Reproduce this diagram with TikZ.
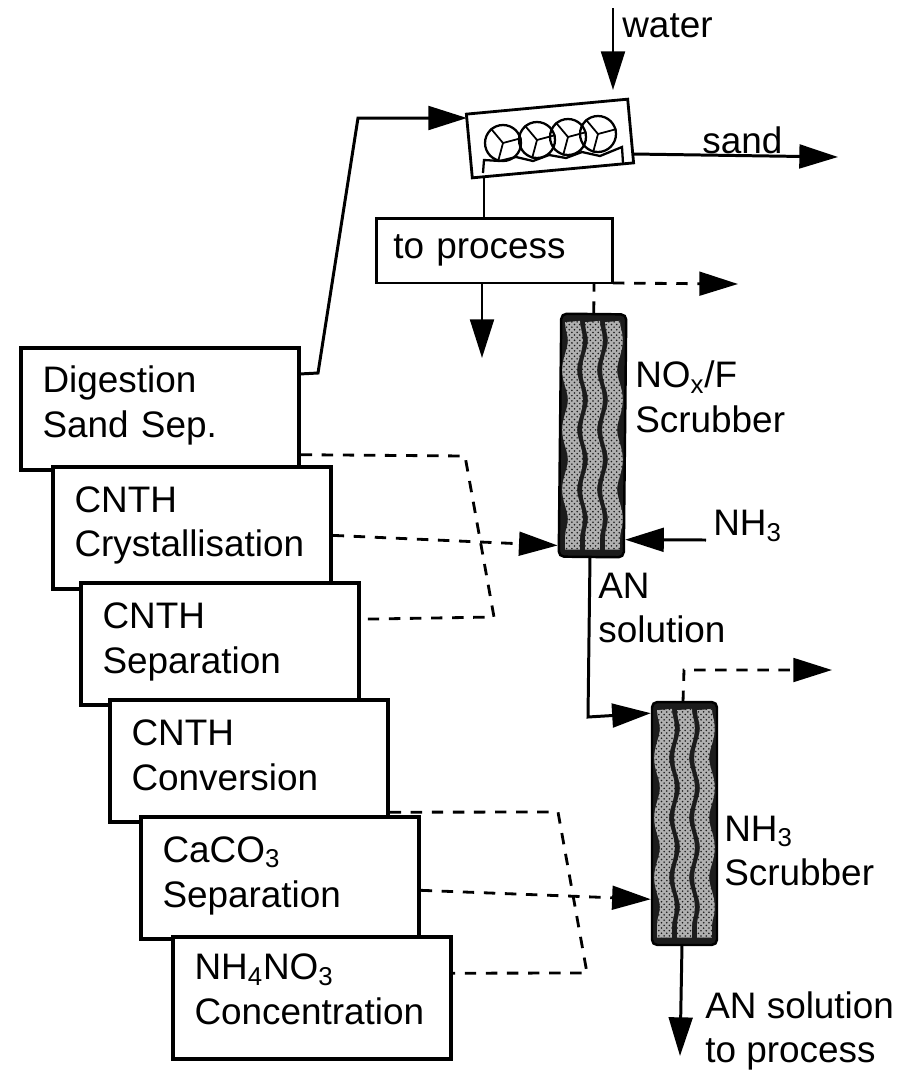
\documentclass[tikz,border=0pt]{standalone}
\usepackage{fontspec}
\setmainfont{Liberation Sans}
\usepackage{xcolor}
\usetikzlibrary{arrows.meta,calc,decorations.pathmorphing,patterns}
\definecolor{scrubdark}{HTML}{1c1c1c}
\definecolor{scrubgrey}{HTML}{b0b0b0}
\tikzset{
  label text/.style={font=\fontsize{21}{25.5}\selectfont,align=left,inner sep=0pt,anchor=west},
  unitbox/.style={draw,line width=1.9pt,fill=white,minimum width=5.56cm,minimum height=2.44cm,
    text width=4.7cm,align=left,inner xsep=0pt,inner ysep=0pt,text height=14pt,font=\fontsize{21}{25.5}\selectfont},
  scrubber/.style={draw,line width=1.4pt,fill=scrubdark,rounded corners=3pt,minimum width=1.3cm,minimum height=4.86cm,inner sep=0pt},
  flow/.style={line width=1.7pt},
  tip/.style={-{Triangle[length=22pt,width=13.5pt]}},
  gas/.style={line width=1.6pt,dash pattern=on 6.5pt off 5.5pt}
}
\begin{document}
\begin{tikzpicture}[x=0.02cm,y=-0.02cm]
  \useasboundingbox (0,0) rectangle (910,1073);
  % free ends and bends
  \foreach \n/\x/\y in {digbend1/318/373,digbend2/358/118,washin/467/118,
      waterin/613/8,waterout/613/90,sandin/633/154,sandout/838/157,
      washout/484/178,procin/484/218,procout/482/283,procend/482/358,
      ventbox/613/283,ventend/738/284,ventup/594/283,
      nh3in/706/540,
      an1/590/557,an2/588/717,
      top1/683/702,top2/684/670,top3/832/670,
      bot1/682/945,bot2/680/1056,
      gasa1/465/456,gasa2/494/617,gasb1/558/812,gasb2/587/973}{
    \coordinate (\n) at (\x,\y);
  }
  % process stack
  \foreach \n/\x/\y/\d/\t in {digestion/160/409/33/{Digestion\\Sand Sep.},
      crystal/192/528/32/{CNTH\\Crystallisation},
      separation/220/644/32/{CNTH\\Separation},
      conversion/249/761/32/{CNTH\\Conversion},
      caco/280/878/32/{CaCO\textsubscript{3}\\Separation},
      nitrate/312/998/35/{NH\textsubscript{4}NO\textsubscript{3}\\Concentration}}{
    \node[unitbox,text depth=\d pt] (\n) at (\x,\y) {\t};
  }
  % sand washer
  \node[draw,line width=1.6pt,minimum width=3.24cm,minimum height=1.28cm,rotate=5.3] (washer) at (550,138.5) {};
  \draw[line width=1.3pt] (483,173) -- (484,160) -- (500,161) -- (516,157) -- (533,161) -- (549,155) -- (566,158) -- (582,152) -- (600,156) -- (622,147) -- (623,163);
  \foreach \i/\x/\y in {1/503/143,2/537/140,3/568/137,4/598/134}{
    \node[draw,circle,line width=1.3pt,minimum size=0.72cm,inner sep=0pt] (roller\i) at (\x,\y) {};
    \foreach \a in {15,130,255}{
      \draw[line width=1pt] (roller\i.center) -- (roller\i.\a);
    }
  }
  \node[draw,line width=1.7pt,minimum width=4.72cm,minimum height=1.3cm,text width=4.05cm,align=left,
    font=\fontsize{21}{25.5}\selectfont] (process) at (494.5,250.5) {to process};
  % scrubbers
  \foreach \n/\x/\y/\r in {scrubone/592.5/435.5/-0.6,scrubtwo/684.5/823.5/0}{
    \node[scrubber,rotate=\r] (\n) at (\x,\y) {};
    \foreach \s in {-20,0,20}{
      \draw[scrubgrey,line width=8.5pt,decorate,decoration={snake,amplitude=1.6pt,segment length=34pt}]
        ($(\n.center)+(\s,-114)$) -- ($(\n.center)+(\s,114)$);
    }
    \path[pattern=crosshatch dots,pattern color=scrubdark] ($(\n.center)+(-30,-116)$) rectangle ($(\n.center)+(30,116)$);
  }
  % solid lines
  \draw[flow,tip] (digestion.14.6) -- (digbend1) -- (digbend2) -- (washin);
  \draw[flow,tip] (waterin) -- (waterout);
  \draw[flow,tip] (sandin) -- (sandout);
  \draw[flow] (washout) -- (procin);
  \draw[flow,tip] (procout) -- (procend);
  \draw[flow,tip] (nh3in) -- (scrubone.-72.3);
  \draw[flow,tip] (an1) -- (an2) -- (scrubtwo.107);
  \draw[flow,tip] (bot1) -- (bot2);
  % dashed lines
  \draw[gas] (digestion.-18.2) -- (gasa1) -- (gasa2) -- (separation.10.2);
  \draw[gas,tip] (crystal.-3.5) -- (scrubone.-107.7);
  \draw[gas] (scrubone.north) -- (ventup);
  \draw[gas,tip] (ventbox) -- (ventend);
  \draw[gas,tip] (top1) -- (top2) -- (top3);
  \draw[gas] (conversion.-20.9) -- (gasb1) -- (gasb2) -- (nitrate.10.6);
  \draw[gas,tip] (caco.-5.8) -- (scrubtwo.-114.8);
  % labels
  \node[label text] (water) at (622,26) {water};
  \node[label text] (sand) at (702,140) {sand};
  \node[label text] (scrubonetext) at (635,397) {NO\textsubscript{x}/F\\Scrubber};
  \node[label text] (nhthree) at (713,526) {NH\textsubscript{3}};
  \node[label text] (antext) at (598,608) {AN\\solution};
  \node[label text] (scrubtwotext) at (724,851) {NH\textsubscript{3}\\Scrubber};
  \node[label text] (outtext) at (705,1031) {AN solution\\to process};
\end{tikzpicture}
\end{document}
